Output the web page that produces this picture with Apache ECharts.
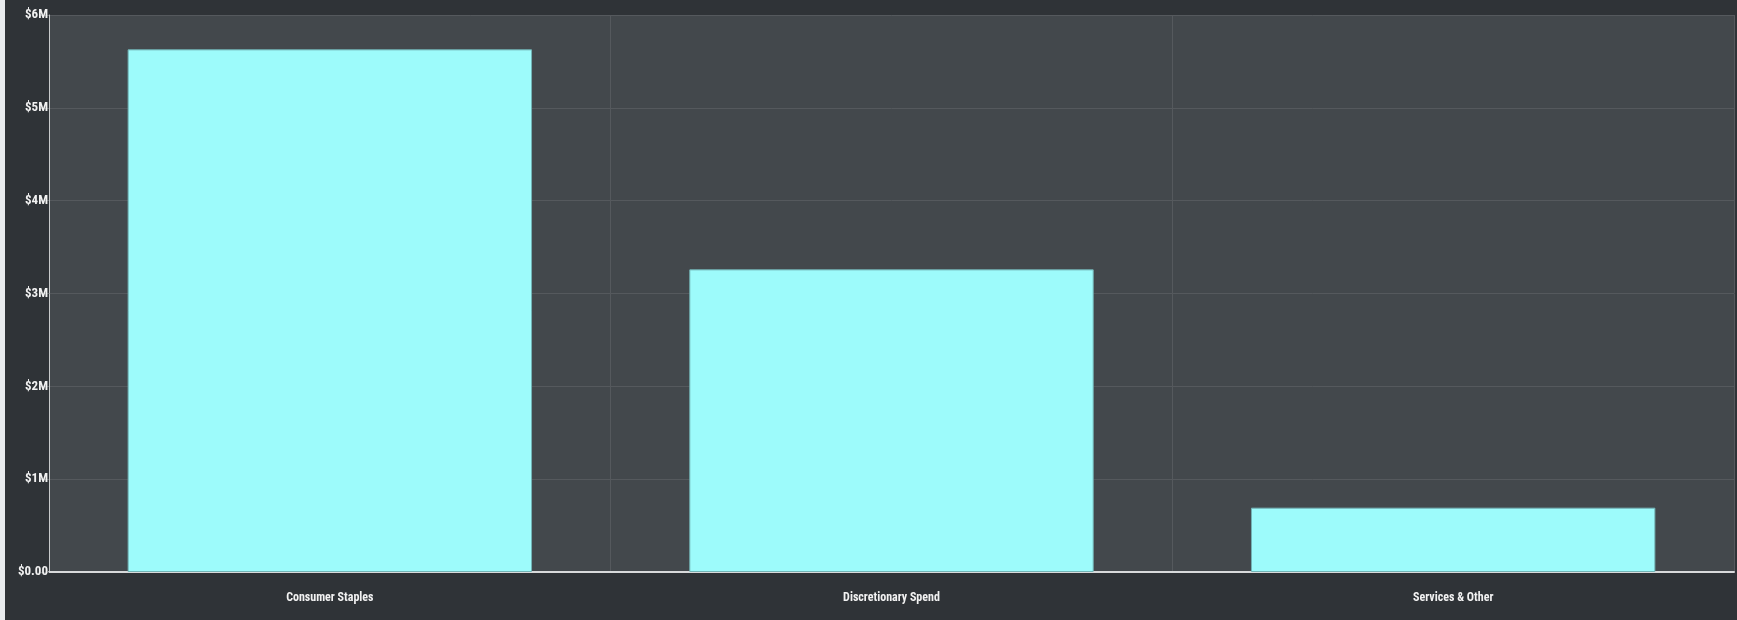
<!DOCTYPE html>
<html>
<head>
<meta charset="utf-8">
<script src="https://cdn.jsdelivr.net/npm/echarts@6/dist/echarts.min.js"></script>
<style>
    html, body { margin: 0; padding: 0; background: #e9ecee; }
    #chart { position: absolute; left: 5px; top: 0; width: 1732px; height: 620px; background: #2f3337; }
</style>
</head>
<body>
<div id="chart"></div>
<script>
    'use strict'

    /* Chart data */
    var categories = ['Consumer Staples', 'Discretionary Spend', 'Services & Other'];
    var spend = [5630000, 3260000, 693000];
    var yMax = 6000000;
    var yStep = 1000000;

    var labelFont = '"Liberation Sans Narrow", "Roboto Condensed", "Arial Narrow", sans-serif';

    var chart = echarts.init(document.getElementById('chart'));

    var option = {
        animation: false,
        grid: {
            left: 44,
            right: 3,
            top: 15,
            bottom: 48,
            show: true,
            backgroundColor: '#43484c',
            borderWidth: 0
        },
        xAxis: {
            type: 'category',
            data: categories,
            axisLine: {
                lineStyle: { color: '#d8dadb', width: 2 }
            },
            axisTick: {
                length: 17,
                lineStyle: { color: '#5b6064' }
            },
            splitLine: {
                show: true,
                lineStyle: { color: '#55595d' }
            },
            axisLabel: {
                margin: 20,
                fontSize: 12,
                fontWeight: 'bold',
                fontFamily: labelFont,
                color: '#f2f2f2'
            }
        },
        yAxis: {
            type: 'value',
            min: 0,
            max: yMax,
            interval: yStep,
            axisLine: {
                show: true,
                lineStyle: { color: '#c9cbcc', width: 1 }
            },
            axisTick: {
                show: true,
                length: 10,
                lineStyle: { color: '#5b6064' }
            },
            splitLine: {
                lineStyle: { color: '#55595d' }
            },
            axisLabel: {
                margin: 1,
                fontSize: 13,
                fontWeight: 'bold',
                fontFamily: labelFont,
                color: '#f2f2f2',
                formatter: function (v) {
                    return v === 0 ? '$0.00' : '$' + (v / 1000000) + 'M';
                }
            }
        },
        series: [{
            type: 'bar',
            data: spend,
            barCategoryGap: '28%',
            itemStyle: {
                color: '#9dfbfb',
                borderColor: '#72b4b6',
                borderWidth: 1
            }
        }]
    };

    chart.setOption(option);
</script>
</body>
</html>
